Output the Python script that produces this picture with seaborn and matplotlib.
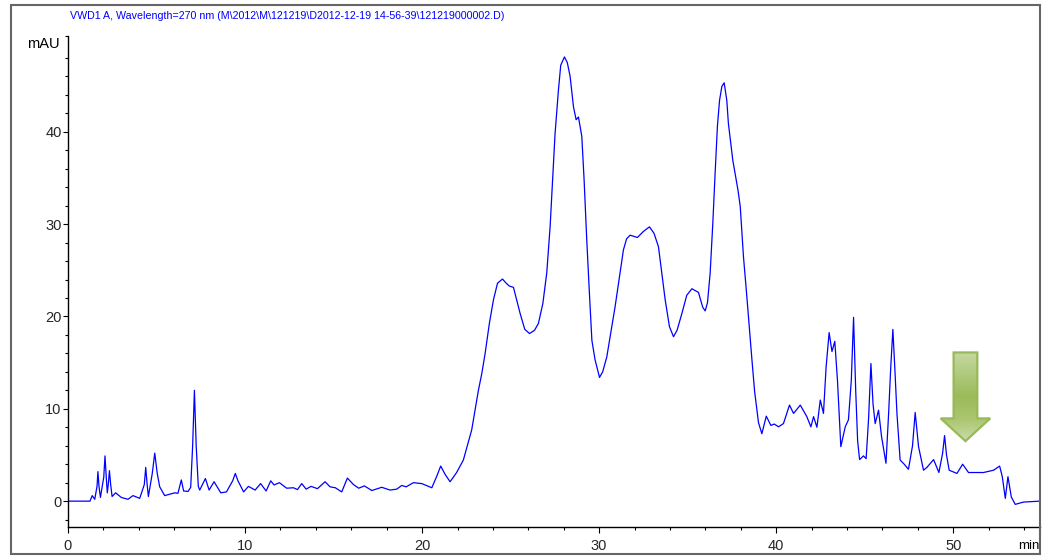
import matplotlib
matplotlib.use("Agg")
import numpy as np
import pandas as pd
import seaborn as sns
import matplotlib.pyplot as plt
from matplotlib import font_manager
from matplotlib.patches import Polygon, Rectangle
from matplotlib.ticker import MultipleLocator, FixedLocator
from matplotlib.colors import LinearSegmentedColormap

# VWD trace: retention time (min) and signal (mAU), split into three stretches
RT_EARLY = [
    0.00, 1.24, 1.37, 1.51, 1.64, 1.69, 1.75, 1.83, 2.02, 2.09,
    2.16, 2.22, 2.28, 2.34, 2.41, 2.49, 2.69, 3.01, 3.39, 3.67,
    4.05, 4.31, 4.39, 4.47, 4.54, 4.76, 4.90, 5.04, 5.18, 5.46,
    6.03, 6.21, 6.40, 6.53, 6.78, 6.93, 7.04, 7.14, 7.24, 7.36,
    7.44, 7.76, 7.97, 8.25, 8.63, 8.95, 9.30, 9.45, 9.60, 9.92,
    10.19, 10.57, 10.88, 11.19, 11.45, 11.64, 11.94, 12.35, 12.73, 12.96,
    13.20, 13.45, 13.73, 14.09, 14.52, 14.80, 15.10, 15.46, 15.78, 16.12,
    16.42, 16.74, 17.16, 17.72, 18.19, 18.57, 18.85, 19.10, 19.51, 19.98,
    20.55, 20.85, 21.05, 21.30, 21.58, 21.95, 22.33, 22.80,
]
SIG_EARLY = [
    0.00, 0.00, 0.60, 0.20, 1.60, 3.20, 1.60, 0.40, 2.60, 4.90,
    2.60, 0.90, 1.90, 3.30, 1.80, 0.50, 0.90, 0.40, 0.20, 0.60,
    0.30, 1.80, 3.65, 1.80, 0.50, 3.00, 5.20, 3.00, 1.55, 0.60,
    0.90, 0.85, 2.30, 1.10, 1.05, 1.50, 6.00, 12.00, 6.00, 1.60,
    1.20, 2.45, 1.20, 2.10, 0.90, 1.00, 2.20, 3.00, 2.20, 1.00,
    1.60, 1.20, 1.90, 1.10, 2.20, 1.75, 2.00, 1.40, 1.45, 1.25,
    1.90, 1.30, 1.60, 1.35, 2.10, 1.55, 1.45, 1.00, 2.50, 1.80,
    1.40, 1.65, 1.15, 1.50, 1.20, 1.30, 1.70, 1.55, 2.00, 1.90,
    1.45, 2.80, 3.80, 2.90, 2.10, 3.10, 4.45, 7.70,
]
RT_MAIN = [
    23.18, 23.37, 23.56, 23.80, 24.03, 24.26, 24.54, 24.75, 24.92, 25.16,
    25.54, 25.80, 26.07, 26.35, 26.57, 26.82, 27.04, 27.23, 27.51, 27.70,
    27.83, 28.04, 28.20, 28.36, 28.55, 28.70, 28.83, 29.02, 29.15, 29.30,
    29.45, 29.59, 29.77, 30.02, 30.20, 30.43, 30.90, 31.37, 31.55, 31.75,
    32.16, 32.50, 32.84, 33.10, 33.35, 33.54, 33.73, 33.97, 34.20, 34.40,
    34.67, 34.95, 35.24, 35.61, 35.85, 35.99, 36.12, 36.27, 36.42, 36.55,
    36.68, 36.80, 36.93, 37.06, 37.21, 37.30, 37.55, 37.84, 37.97, 38.15,
    38.31, 38.63, 38.78,
]
SIG_MAIN = [
    12.00, 13.80, 16.00, 19.25, 21.80, 23.60, 24.05, 23.60, 23.30, 23.15,
    20.30, 18.60, 18.15, 18.50, 19.25, 21.40, 24.70, 29.70, 39.80, 44.50,
    47.20, 48.10, 47.50, 46.00, 42.70, 41.30, 41.60, 39.50, 34.80, 28.30,
    22.50, 17.40, 15.30, 13.40, 14.00, 15.60, 21.05, 27.20, 28.40, 28.80,
    28.55, 29.20, 29.70, 29.00, 27.55, 24.70, 21.80, 18.90, 17.80, 18.50,
    20.30, 22.30, 23.00, 22.60, 21.00, 20.60, 21.50, 24.70, 30.10, 35.50,
    40.60, 43.40, 44.90, 45.30, 43.40, 40.90, 36.90, 33.70, 31.90, 26.50,
    22.90, 15.30, 11.90,
]
RT_LATE = [
    39.00, 39.19, 39.44, 39.70, 39.89, 40.13, 40.41, 40.75, 40.98, 41.36,
    41.73, 41.96, 42.11, 42.30, 42.49, 42.67, 42.82, 42.99, 43.15, 43.31,
    43.46, 43.65, 43.90, 44.08, 44.24, 44.37, 44.49, 44.60, 44.71, 44.93,
    45.08, 45.22, 45.35, 45.47, 45.59, 45.78, 45.95, 46.20, 46.35, 46.47,
    46.59, 46.71, 46.82, 47.00, 47.23, 47.47, 47.70, 47.85, 48.04, 48.32,
    48.51, 48.89, 49.19, 49.40, 49.51, 49.62, 49.77, 50.21, 50.53, 50.86,
    51.71, 52.28, 52.62, 52.77, 52.94, 53.09, 53.28, 53.50, 53.97, 54.90,
]
SIG_LATE = [
    8.50, 7.30, 9.20, 8.20, 8.35, 8.05, 8.40, 10.40, 9.50, 10.40,
    9.15, 8.05, 9.15, 8.00, 10.95, 9.50, 14.55, 18.25, 16.20, 17.30,
    13.10, 5.90, 8.05, 8.80, 13.00, 19.90, 12.00, 6.50, 4.50, 4.90,
    4.60, 9.00, 14.90, 10.50, 8.40, 9.85, 7.00, 4.10, 9.50, 14.50,
    18.60, 14.00, 9.50, 4.45, 4.00, 3.45, 6.00, 9.60, 5.90, 3.35,
    3.65, 4.50, 3.10, 5.20, 7.10, 5.00, 3.35, 3.00, 4.00, 3.10,
    3.10, 3.35, 3.80, 2.65, 0.30, 2.65, 0.45, -0.35, -0.10, 0.00,
]

X_MAJOR = [0, 10, 20, 30, 40, 50]
Y_MAJOR = [0, 10, 20, 30, 40]
TITLE = "VWD1 A, Wavelength=270 nm (M\\2012\\M\\121219\\D2012-12-19 14-56-39\\121219000002.D)"
X_UNIT = "min"
Y_UNIT = "mAU"

# Block arrow marking the late-eluting region
ARROW_X = 50.69
ARROW_TOP, ARROW_NECK, ARROW_TIP = 16.1, 8.96, 6.5
SHAFT_HALF, HEAD_HALF = 0.67, 1.40

X_MAX, Y_MIN, Y_MAX = 54.9, -2.8, 50.4

rt = RT_EARLY + RT_MAIN + RT_LATE
sig = SIG_EARLY + SIG_MAIN + SIG_LATE
assert len(rt) == len(sig)
trace = pd.DataFrame({"rt": rt, "signal": sig})

names = {f.name for f in font_manager.fontManager.ttflist}
narrow = "Liberation Sans Narrow" if "Liberation Sans Narrow" in names else "Liberation Sans"

sns.set_style("ticks")
plt.rcParams["font.family"] = [narrow, "DejaVu Sans"]

W, H = 1045, 557
fig = plt.figure(figsize=(W / 100, H / 100), dpi=100)
ax = fig.add_axes([68 / W, 30 / H, (1040 - 68) / W, (527 - 35.7) / H])

sns.lineplot(data=trace, x="rt", y="signal", ax=ax, color="#0000ff",
             linewidth=0.9, estimator=None, sort=False)

ax.set_xlim(0, X_MAX)
ax.set_ylim(Y_MIN, Y_MAX)
ax.set_xlabel("")
ax.set_ylabel("")

for side in ("top", "right"):
    ax.spines[side].set_visible(False)
for side in ("left", "bottom"):
    ax.spines[side].set_color("black")
    ax.spines[side].set_linewidth(1.0)

ax.xaxis.set_major_locator(FixedLocator(X_MAJOR))
ax.xaxis.set_minor_locator(MultipleLocator(2))
ax.set_xticklabels([str(v) for v in X_MAJOR])
ax.yaxis.set_major_locator(FixedLocator(Y_MAJOR))
ax.yaxis.set_minor_locator(FixedLocator([v for v in range(-2, 50, 2) if v % 10] + [Y_MAX]))
ax.set_yticklabels([str(v) for v in Y_MAJOR])

ax.tick_params(axis="x", which="major", length=4.3, width=0.8, pad=4.5,
               labelsize=10.5, color="black", direction="out")
ax.tick_params(axis="x", which="minor", length=2.5, width=0.8, color="black", direction="out")
ax.tick_params(axis="y", which="major", length=3.6, width=0.8, pad=1.0,
               labelsize=10.5, color="black", direction="out")
ax.tick_params(axis="y", which="minor", length=2.2, width=0.8, color="black", direction="out")

# Gradient-filled arrow
verts = [
    (ARROW_X - SHAFT_HALF, ARROW_TOP), (ARROW_X + SHAFT_HALF, ARROW_TOP),
    (ARROW_X + SHAFT_HALF, ARROW_NECK), (ARROW_X + HEAD_HALF, ARROW_NECK),
    (ARROW_X, ARROW_TIP), (ARROW_X - HEAD_HALF, ARROW_NECK),
    (ARROW_X - SHAFT_HALF, ARROW_NECK),
]
clip = Polygon(verts, closed=True, transform=ax.transData, facecolor="none", edgecolor="none")
ax.add_patch(clip)
cmap = LinearSegmentedColormap.from_list(
    "arrow_green",
    [(0.0, "#cadcaa"), (0.25, "#aac66f"), (0.5, "#9bbb59"), (1.0, "#c5d8a2")],
)
grad = np.linspace(0, 1, 256).reshape(-1, 1)
img = ax.imshow(grad, cmap=cmap, origin="lower", aspect="auto", zorder=3,
                extent=[ARROW_X - HEAD_HALF, ARROW_X + HEAD_HALF, ARROW_TIP, ARROW_TOP],
                interpolation="bilinear")
img.set_clip_path(clip)
ax.add_patch(Polygon(verts, closed=True, facecolor="none", edgecolor="#98b957",
                     linewidth=1.6, joinstyle="miter", zorder=4))
ax.set_xlim(0, X_MAX)
ax.set_ylim(Y_MIN, Y_MAX)

fig.text(70 / W, 1 - 16 / H, TITLE, color="#0000ff", fontsize=7.7, ha="left", va="center")
fig.text(27 / W, 1 - 44 / H, Y_UNIT, color="black", fontsize=10.5, ha="left", va="center")
fig.text(1018 / W, 1 - 546 / H, X_UNIT, color="black", fontsize=9.5, ha="left", va="center")

fig.patches.append(Rectangle((11 / W, 1 - 554 / H), (1040 - 11) / W, (554 - 5) / H,
                             transform=fig.transFigure, fill=False,
                             edgecolor="#666666", linewidth=1.5, zorder=10))

fig.savefig("out.png", dpi=100)
